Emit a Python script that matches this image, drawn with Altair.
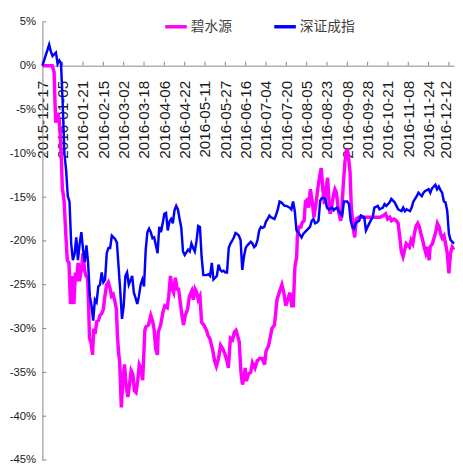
import altair as alt
import pandas as pd

# ---------------- data ----------------
date_labels = ["2015-12-17", "2016-01-05", "2016-01-21", "2016-02-15", "2016-03-02",
               "2016-03-18", "2016-04-06", "2016-04-22", "2016-05-11", "2016-05-27",
               "2016-06-16", "2016-07-04", "2016-07-20", "2016-08-05", "2016-08-23",
               "2016-09-08", "2016-09-28", "2016-10-21", "2016-11-08", "2016-11-24",
               "2016-12-12"]
label_step = 12  # trading days between labelled dates

series_names = ["碧水源", "深证成指"]
series_colors = ["#FF00FF", "#0000FF"]

# 碧水源: trading-day position, cumulative return (%)
bsy_day = [0, 2, 4, 5.8, 6.9, 7.5, 7.9, 8.9, 9.9, 10.8,
           11.8, 12.8, 13.7, 14.7, 15.7, 16.6, 17.6, 18.6, 19.5, 20.1,
           21.1, 21.9, 23.0, 24.0, 24.9, 25.7, 26.7, 27.3, 27.8, 28.8,
           29.6, 30.3, 31.1, 32.1, 33.1, 34.0, 35.0, 36.0, 36.9, 37.9,
           38.9, 39.8, 40.8, 41.8, 42.7, 43.7, 44.3, 45.1, 45.6, 46.6,
           47.6, 48.5, 49.5, 50.5, 51.4, 52.4, 53.4, 54.3, 55.3, 56.3,
           57.2, 58.2, 59.2, 60.5, 61.1, 62.6, 64.0, 65.0, 65.9, 66.9,
           67.9, 68.4, 69.8, 71.2, 72.3, 73.7, 74.6, 75.6, 76.6, 77.5,
           78.5, 79.5, 80.4, 81.4, 82.4, 83.3, 84.3, 85.7, 86.8, 88.2,
           89.1, 90.1, 91.1, 92.0, 93.0, 94.0, 95.3, 96.9, 97.8, 98.8,
           99.8, 100.7, 101.7, 102.7, 104.0, 105.2, 106.5, 107.9, 109.0, 109.8,
           111.0, 112.3, 113.3, 114.3, 115.2, 116.2, 117.2, 118.1, 119.1, 119.7,
           120.5, 121.6, 123.0, 124.0, 125.5, 126.8, 128.2, 129.7, 131.2, 132.0,
           133.6, 135.5, 137.0, 138.5, 139.8, 141.4, 142.5, 143.7, 144.8, 146.2,
           147.2, 148.1, 149.1, 150.1, 150.6, 151.6, 152.6, 153.4, 154.5, 155.3,
           156.4, 157.2, 158.2, 159.3, 160.3, 161.7, 162.6, 163.6, 164.6, 165.5,
           166.5, 167.4, 168.4, 169.4, 169.9, 170.7, 171.9, 172.7, 173.6, 174.8,
           176.1, 176.7, 177.5, 178.6, 179.6, 180.4, 181.6, 182.3, 183.3, 184.4,
           185.2, 186.8, 193, 199.4, 201.3, 202.6, 203.8, 205.1, 206.1, 207.6,
           209.0, 210.0, 211.0, 211.9, 212.9, 213.9, 214.8, 215.8, 216.7, 217.7,
           218.7, 219.6, 220.6, 221.6, 222.5, 223.5, 224.5, 225.4, 226.4, 227.4,
           228.3, 228.9, 230.3, 231.3, 232.2, 233.2, 234.2, 235.1, 236.1, 237.1,
           238.0, 239.0, 240.0, 240.9, 241.9, 242.9]
bsy_ret = [0, 0, 0, 0, -0.7, -4.5, -6.5, -5.4, -6.1, -8.7,
           -14, -15.4, -18.8, -22.2, -22.5, -27.2, -24, -27.2, -23.6, -24.6,
           -22.5, -24.6, -23.3, -21.4, -23.3, -24, -24.2, -27.4, -31.1, -31.7,
           -33, -30, -30.6, -29.2, -29.1, -28.5, -28.3, -27.8, -26.3, -25,
           -24.7, -25.3, -26.3, -26.1, -26.8, -27.8, -30.8, -33, -33.7, -39,
           -35.6, -34.1, -36.7, -37.8, -36.4, -34.8, -35.2, -37.1, -37.3, -35.9,
           -34.1, -34.5, -35.9, -30.2, -29.8, -29.6, -28.5, -29.1, -30, -32.3,
           -33, -30.4, -29.6, -28.1, -27.4, -27.6, -26.3, -24, -25.5, -25.9,
           -24.2, -25.5, -25.5, -27, -28.5, -29.6, -28.5, -27.8, -26.3, -25.7,
           -26.7, -25.5, -25.9, -26.7, -26.3, -29.3, -29.6, -30.2, -30.8, -31.1,
           -31.9, -32.6, -33.7, -34.3, -33.4, -31.9, -32.3, -33, -33.7, -34.5,
           -31.1, -31.3, -30.4, -30.2, -30.8, -31.5, -34.9, -36.4, -35.6, -34.5,
           -36, -35.2, -35, -33.9, -34.5, -33.7, -33.4, -33.4, -34.1, -32.6,
           -31.9, -30, -29.6, -26.7, -25.9, -25, -25.9, -27.4, -26.7, -25.9,
           -27.4, -27.4, -22.9, -21.8, -19.2, -18.4, -18.4, -17.9, -17.7, -15.5,
           -15.3, -16.2, -14.1, -15.5, -17.3, -15.5, -14, -12.7, -11.7, -14,
           -15.8, -14, -12.8, -16.2, -16.9, -16.2, -14.7, -14.1, -14.5, -16.6,
           -17.7, -16.6, -14, -11, -9.5, -9.9, -12.1, -15.8, -18.4, -19.6,
           -17.5, -17.3, -17.3, -17.3, -17.1, -16.9, -17.5, -17.3, -17.7, -17.5,
           -17.7, -18, -19.6, -21.2, -21.8, -21, -20.3, -20.5, -20.7, -19.9,
           -20.3, -19.2, -18.3, -18, -18.4, -19.2, -19.9, -20.7, -21.4, -20.7,
           -22.2, -20.7, -20.3, -19.6, -19, -18, -18.4, -19.2, -19.7, -19.4,
           -20.3, -21.4, -23.7, -21.4, -20.7, -21]

# 深证成指: trading-day index, cumulative return (%)
szcz_day = [0, 2, 4, 5, 6] + list(range(8, 244))
szcz_ret = [0, 1.2, 2.4, 1.6, 1.1,
            1.5, 0.2, 0.6, 0.3, -4.4, -10, -11.9, -14.9, -15.5, -20.3,
            -22.2, -21.5, -19.6, -22.2, -20.3, -19, -21, -22.4, -20.5, -22.5,
            -26.3, -27.4, -29.1, -26.7, -27, -25.2, -25, -23.6, -24.7, -24.4,
            -21.4, -20.8, -20.8, -19.4, -19.6, -19.8, -20.2, -23, -25.8, -28.9,
            -27.4, -24, -23.6, -25, -24.5, -24, -25.9, -26.5, -27.2, -26.3,
            -25, -24.4, -25.2, -21, -19, -18.6, -19, -19.7, -19.6, -20.5,
            -21.4, -18.4, -19, -18, -16.9, -16.8, -18.8, -17.8, -17.5, -18,
            -16.5, -16, -16.4, -17.5, -18.5, -21.2, -21.6, -21.3, -21, -21.2,
            -20.3, -20.8, -21.2, -20, -18.3, -18.4, -21.8, -23.9, -23.9, -23.9,
            -23.8, -24, -22.5, -24.4, -24.2, -24, -22.7, -23.3, -23.5, -23.4,
            -23.6, -23.6, -20.8, -20.3, -20, -19.6, -19.1, -19.2, -19.4, -19.9,
            -23.3, -21.8, -20.8, -20.5, -20.3, -20.1, -20.3, -20.7, -20.5, -19.9,
            -18.8, -18.4, -18.5, -18.4, -17.8, -17.5, -17.1, -17.3, -17.4, -17.5,
            -17, -16.4, -15.5, -15.6, -15.8, -16, -16, -16.1, -16.2, -16.4,
            -15.5, -16.6, -18.8, -19, -19.3, -19.6, -19.2, -19, -18.8, -18.6,
            -18.4, -17.7, -17.5, -18, -17.9, -17.7, -15.4, -15.1, -15.1, -15.2,
            -16.2, -16.4, -16.3, -16.2, -16.5, -16.3, -16.2, -16.6, -16.9, -17.1,
            -15.5, -15.5, -15.5, -15.8, -17.7, -18.4, -18.6, -18, -17.8, -17.7,
            -17.1, -17.2, -17.3, -18.8, -18.4, -18, -17.6, -17.3, -16.2, -16.1,
            -16, -16.4, -16.3, -16.2, -15.8, -16, -15.8, -15.6, -15.2, -15.4,
            -15.6, -16, -16.4, -16.5, -16.6, -16.2, -16.6, -16.4, -16.5, -16.6,
            -16.2, -15.5, -15.2, -14.9, -14.5, -14.7, -14.9, -14.5, -14.3, -14.2,
            -14.1, -14.5, -14, -13.8, -13.6, -14.1, -13.8, -14.2, -14.5, -15.5,
            -15.6, -16.6, -19.2, -19.9, -20.1, -20.3]

y_ticks = [5, 0, -5, -10, -15, -20, -25, -30, -35, -40, -45]

assert len(bsy_day) == len(bsy_ret)
assert len(szcz_day) == len(szcz_ret)

# ---------------- chart ----------------
W, H = 419, 446
y_min, y_max = -45, 5
x_max = 243
axis_gray = "#868686"

df_bsy = pd.DataFrame({"t": bsy_day, "v": bsy_ret, "s": series_names[0]})
df_sz = pd.DataFrame({"t": szcz_day, "v": szcz_ret, "s": series_names[1]})
tick_days = list(range(0, label_step * (len(date_labels) - 1) + 1, label_step))
df_xt = pd.DataFrame({"t": tick_days})
df_yt = pd.DataFrame({"v": y_ticks})

x_scale = alt.Scale(domain=[0, x_max], nice=False, zero=False)
y_scale = alt.Scale(domain=[y_min, y_max], nice=False, zero=False)

label_expr = "[" + ",".join("'%s'" % d for d in date_labels) + "][round(datum.value/%d)]" % label_step

x_axis = alt.Axis(values=tick_days, labelExpr=label_expr, labelAngle=270,
                  labelAlign="right", labelBaseline="middle", labelPadding=15,
                  labelOffset={"condition": {"test": "datum.value == %d" % tick_days[-1], "value": -3}, "value": 0},
                  labelFlush=False, labelOverlap=False, ticks=False,
                  grid=False, domainColor=axis_gray, domainWidth=1,
                  labelFont="Liberation Sans, Arial, sans-serif", labelFontSize=15.5,
                  labelColor="#1a1a1a", title=None,
                  offset=-(H * (0 - y_min) / (y_max - y_min)))
y_axis = alt.Axis(values=y_ticks, labelExpr="datum.value + '%'", ticks=False,
                  labelPadding=7, grid=False, domainColor=axis_gray, domainWidth=1,
                  labelFont="Liberation Sans, Arial, sans-serif",
                  labelFontSize=11.5, labelColor="#1a1a1a", title=None)

color = alt.Color("s:N", scale=alt.Scale(domain=series_names, range=series_colors),
                  legend=alt.Legend(orient="none", legendX=123, legendY=-8,
                                    direction="horizontal", title=None,
                                    symbolType="stroke", symbolSize=484,
                                    symbolStrokeWidth=3.5, columnPadding=36,
                                    labelOffset=2, labelFont="Noto Sans CJK SC",
                                    labelFontSize=14, labelColor="#404040"))

line_bsy = alt.Chart(df_bsy).mark_line(strokeWidth=3.5).encode(
    x=alt.X("t:Q", scale=x_scale, axis=x_axis),
    y=alt.Y("v:Q", scale=y_scale, axis=y_axis),
    color=color,
)
line_sz = alt.Chart(df_sz).mark_line(strokeWidth=2.5).encode(
    x=alt.X("t:Q", scale=x_scale, axis=x_axis),
    y=alt.Y("v:Q", scale=y_scale, axis=y_axis),
    color=color,
)

x_ticks = alt.Chart(df_xt).mark_rule(color=axis_gray, strokeWidth=1).encode(
    x=alt.X("t:Q", scale=x_scale, axis=x_axis),
    y=alt.YDatum(0),
    y2=alt.Y2Datum(0.45),
)
y_tick_marks = alt.Chart(df_yt).mark_rule(color=axis_gray, strokeWidth=1).encode(
    y=alt.Y("v:Q", scale=y_scale, axis=y_axis),
    x=alt.value(0),
    x2=alt.value(4),
)

chart = alt.layer(x_ticks, y_tick_marks, line_bsy, line_sz).properties(
    width=W, height=H, autosize="none",
    padding={"left": 35, "top": 10, "right": 1, "bottom": 2},
    background="white",
).configure_view(stroke=None)

chart.save("out.html", embed_options={"renderer": "svg", "actions": False})
